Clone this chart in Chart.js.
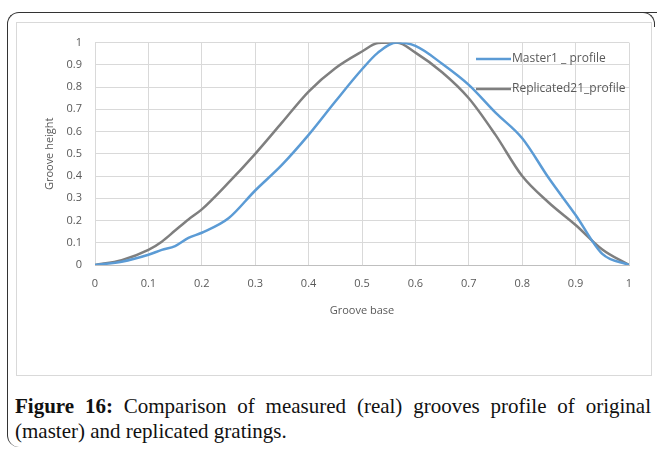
<!DOCTYPE html>
<html>
<head>
<meta charset="utf-8">
<script src="https://cdn.jsdelivr.net/npm/chart.js@4.4.0/dist/chart.umd.min.js"></script>
<style>
  body { margin: 0; width: 657px; height: 449px; background: #fff; position: relative; overflow: hidden; }
  .frame { position: absolute; left: 7px; top: 12px; width: 680px; height: 434px;
    border-top: 1.5px solid #333; border-left: 1.5px solid #333; border-radius: 12px 0 0 12px; }
  .corner { position: absolute; left: 640px; top: 12px; width: 14px; height: 14px;
    border-top: 1.5px solid #333; border-right: 1.5px solid #333; border-radius: 0 12px 0 0; }
  .box { position: absolute; left: 16px; top: 22px; width: 636px; height: 354px; border: 1px solid #d9d9d9; box-sizing: border-box; }
  .caption { position: absolute; left: 15px; top: 394px; width: 636px; font-family: "Liberation Serif", serif;
    font-size: 21px; line-height: 25px; text-align: justify; color: #111; }
</style>
</head>
<body>
<div class="frame"></div>
<div class="corner"></div>
<div class="box"><canvas id="lineChart" width="634" height="352"></canvas></div>
<div class="caption"><b>Figure 16:</b> Comparison of measured (real) grooves profile of original (master) and replicated gratings.</div>
<script>
const grooveBase = [0, 0.05, 0.1, 0.125, 0.15, 0.175, 0.2, 0.25, 0.3, 0.35, 0.4, 0.45, 0.5, 0.53, 0.565, 0.6, 0.65, 0.7, 0.75, 0.8, 0.85, 0.9, 0.95, 1];
const master1 = [0, 0.015, 0.046, 0.068, 0.085, 0.122, 0.145, 0.21, 0.335, 0.45, 0.585, 0.735, 0.88, 0.955, 1.0, 0.985, 0.905, 0.81, 0.685, 0.57, 0.39, 0.225, 0.05, 0];
const replicated21 = [0, 0.022, 0.068, 0.105, 0.155, 0.205, 0.25, 0.37, 0.5, 0.64, 0.78, 0.885, 0.96, 0.998, 1.0, 0.955, 0.867, 0.75, 0.585, 0.40, 0.28, 0.18, 0.07, 0];
const seriesNames = ["Master1 _ profile", "Replicated21_profile"];
const xTicks = [0, 0.1, 0.2, 0.3, 0.4, 0.5, 0.6, 0.7, 0.8, 0.9, 1];

const toPoints = (ys) => grooveBase.map((x, i) => ({ x: x, y: ys[i] }));
const tickFont = { family: "Open Sans", size: 11 };

// legend drawn inside the plot, top right, like the excel original
const insideLegend = {
  id: "insideLegend",
  afterDraw(chart) {
    const ctx = chart.ctx;
    ctx.save();
    ctx.font = "12px 'Open Sans'";
    ctx.textBaseline = "middle";
    chart.data.datasets.forEach((ds, i) => {
      const y = 36 + i * 30;
      ctx.strokeStyle = ds.borderColor;
      ctx.lineWidth = 2.5;
      ctx.beginPath();
      ctx.moveTo(459, y);
      ctx.lineTo(494, y);
      ctx.stroke();
      ctx.fillStyle = "#595959";
      ctx.fillText(ds.label, 495, y);
    });
    ctx.restore();
  }
};

new Chart(document.getElementById("lineChart"), {
  type: "line",
  data: {
    datasets: [
      { label: seriesNames[0], data: toPoints(master1), borderColor: "#5b9bd5", borderWidth: 2.5, pointRadius: 0, cubicInterpolationMode: "monotone" },
      { label: seriesNames[1], data: toPoints(replicated21), borderColor: "#7f7f7f", borderWidth: 2.5, pointRadius: 0, cubicInterpolationMode: "monotone" }
    ]
  },
  options: {
    responsive: false,
    animation: false,
    layout: { padding: { left: 0, right: 22, top: 17, bottom: 58 } },
    plugins: { legend: { display: false }, tooltip: { enabled: false } },
    scales: {
      x: {
        type: "linear", min: 0, max: 1,
        afterBuildTicks: (axis) => { axis.ticks = xTicks.map(v => ({ value: v })); },
        afterFit: (axis) => { axis.height = 52; },
        grid: { color: "#d9d9d9", drawTicks: false },
        border: { color: "#bfbfbf" },
        ticks: { color: "#595959", font: tickFont, padding: 12, maxRotation: 0, callback: (v) => String(v) },
        title: { display: true, text: "Groove base", color: "#595959", font: tickFont, padding: { top: 0, bottom: 0 } }
      },
      y: {
        min: 0, max: 1,
        afterFit: (axis) => { axis.width = 78; },
        grid: { color: "#d9d9d9", drawTicks: false },
        border: { display: false },
        ticks: { color: "#595959", font: tickFont, padding: 13, stepSize: 0.1, callback: (v) => String(Math.round(v * 10) / 10) },
        title: { display: true, text: "Groove height", color: "#595959", font: tickFont, padding: { top: 26, bottom: 0 } }
      }
    }
  },
  plugins: [insideLegend]
});
</script>
</body>
</html>
